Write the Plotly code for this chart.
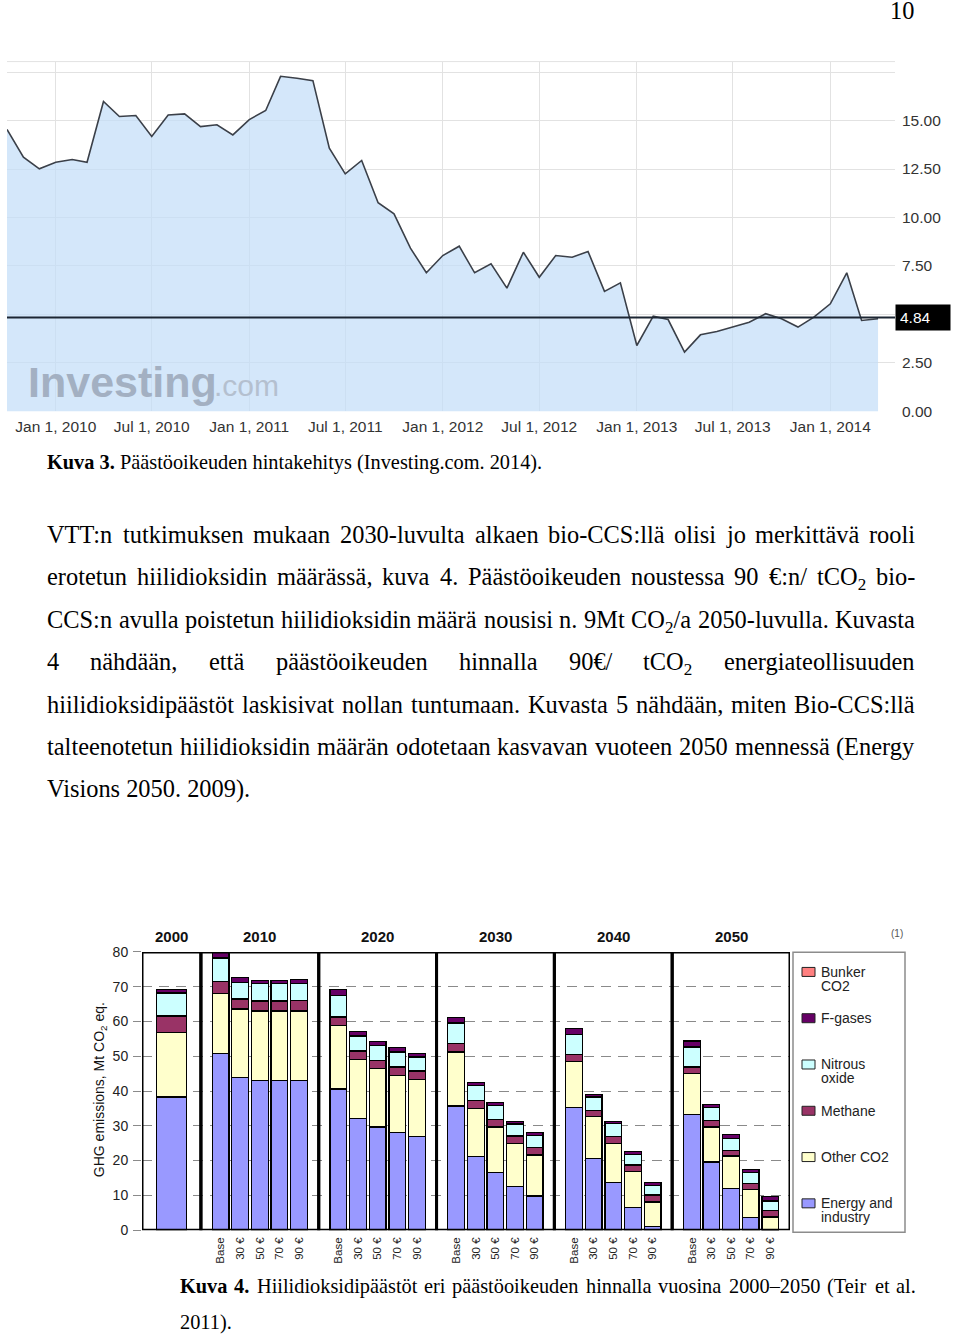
import re
import pandas as pd
import plotly.graph_objects as go

W, H = 960, 1336
SERIF = "Liberation Serif, Times New Roman, serif"
SANS = "Liberation Sans, Arial, sans-serif"

# ---------------- Kuva 3: EUA price (Investing.com), monthly ----------------
price_dates = pd.date_range("2009-10-01", "2014-04-01", freq="MS")
price_values = [14.54, 13.11, 12.51, 12.85, 12.99, 12.85, 15.98, 15.21, 15.26, 14.18,
                15.29, 15.34, 14.69, 14.78, 14.26, 15.05, 15.52, 17.28, 17.18, 17.06,
                13.57, 12.25, 12.94, 10.76, 10.19, 8.42, 7.15, 8.04, 8.52, 7.15,
                7.61, 6.36, 8.21, 6.92, 8.04, 7.95, 8.25, 6.19, 6.63, 3.40,
                4.91, 4.74, 3.06, 3.95, 4.12, 4.35, 4.60, 5.04, 4.78, 4.35,
                4.86, 5.55, 7.15, 4.69, 4.78]
last_price = 4.84
price_tick_dates = ["2010-01-01", "2010-07-01", "2011-01-01", "2011-07-01", "2012-01-01",
                    "2012-07-01", "2013-01-01", "2013-07-01", "2014-01-01"]
price_tick_labels = ["Jan 1, 2010", "Jul 1, 2010", "Jan 1, 2011", "Jul 1, 2011", "Jan 1, 2012",
                     "Jul 1, 2012", "Jan 1, 2013", "Jul 1, 2013", "Jan 1, 2014"]
price_axis_ticks = [0, 2.5, 7.5, 10, 12.5, 15]
price_axis_labels = ["0.00", "2.50", "7.50", "10.00", "12.50", "15.00"]
price_extra_grid = [5, 17.5]

# ---------------- Kuva 4: GHG emissions, Mt CO2 eq. ----------------
years = ["2000", "2010", "2020", "2030", "2040", "2050"]
scenarios = ["Base", "30 €", "50 €", "70 €", "90 €"]
# order: 2000, then 2010..2050 x (Base, 30, 50, 70, 90)
energy_industry = [38.3,
                   50.8, 43.8, 43.0, 43.0, 43.0,
                   40.6, 32.1, 29.7, 28.0, 27.0,
                   35.7, 21.1, 16.6, 12.5, 9.8,
                   35.2, 20.6, 13.6, 6.5, 1.1,
                   33.2, 19.6, 12.0, 3.6, 0.0]
other_co2 = [18.6,
             17.2, 19.8, 20.0, 20.0, 20.0,
             18.3, 17.0, 16.7, 16.5, 16.4,
             15.5, 13.8, 13.1, 12.4, 11.8,
             13.2, 12.0, 11.3, 10.3, 7.0,
             11.8, 10.1, 9.3, 8.1, 3.8]
methane = [4.7,
           3.6, 2.9, 2.9, 2.9, 3.1,
           2.4, 2.4, 2.4, 2.4, 2.4,
           2.4, 2.3, 2.2, 2.2, 2.1,
           2.2, 1.9, 2.1, 1.9, 2.0,
           1.9, 1.9, 1.7, 1.7, 1.8]
nitrous_oxide = [6.6,
                 6.7, 4.8, 5.0, 5.0, 4.8,
                 6.2, 4.3, 4.2, 4.3, 4.0,
                 6.0, 4.3, 3.9, 3.4, 3.6,
                 5.6, 3.8, 3.7, 3.0, 2.8,
                 5.8, 3.6, 3.3, 3.1, 2.8]
f_gases = [1.1,
           1.5, 1.3, 0.9, 0.9, 1.2,
           1.7, 1.3, 1.2, 1.3, 1.0,
           1.5, 1.0, 1.0, 0.8, 0.8,
           1.7, 0.7, 0.5, 1.0, 0.9,
           1.7, 0.9, 1.3, 0.9, 1.2]
bunker_co2 = [0.0,
              0.0, 0.0, 0.0, 0.0, 0.0,
              0.0, 0.0, 0.0, 0.0, 0.0,
              0.0, 0.0, 0.0, 0.0, 0.0,
              0.0, 0.0, 0.0, 0.0, 0.0,
              0.0, 0.0, 0.0, 0.0, 0.0]
layer_names = ["Energy and industry", "Other CO2", "Methane", "Nitrous oxide", "F-gases", "Bunker CO2"]
layer_values = [energy_industry, other_co2, methane, nitrous_oxide, f_gases, bunker_co2]
layer_colors = ["#9999ff", "#ffffcc", "#993366", "#ccffff", "#660066", "#ff8080"]
legend_lines = {"Bunker CO2": ["Bunker", "CO2"], "F-gases": ["F-gases"],
                "Nitrous oxide": ["Nitrous", "oxide"], "Methane": ["Methane"],
                "Other CO2": ["Other CO2"], "Energy and industry": ["Energy and", "industry"]}

# ---------------- page text ----------------
page_number = "10"
caption3 = "<b>Kuva</b> <b>3.</b> Päästöoikeuden hintakehitys (Investing.com. 2014)."
body_lines = [
    ("VTT:n tutkimuksen mukaan 2030-luvulta alkaen bio-CCS:llä olisi jo merkittävä rooli", True),
    ("erotetun hiilidioksidin määrässä, kuva 4. Päästöoikeuden noustessa 90 €:n/ tCO<sub>2</sub> bio-", True),
    ("CCS:n avulla poistetun hiilidioksidin määrä nousisi n. 9Mt CO<sub>2</sub>/a 2050-luvulla. Kuvasta", True),
    ("4 nähdään, että päästöoikeuden hinnalla 90€/ tCO<sub>2</sub> energiateollisuuden", True),
    ("hiilidioksidipäästöt laskisivat nollan tuntumaan. Kuvasta 5 nähdään, miten Bio-CCS:llä", True),
    ("talteenotetun hiilidioksidin määrän odotetaan kasvavan vuoteen 2050 mennessä (Energy", True),
    ("Visions 2050. 2009).", False),
]
caption4_lines = [
    ("<b>Kuva</b> <b>4.</b> Hiilidioksidipäästöt eri päästöoikeuden hinnalla vuosina 2000–2050 (Teir et al.", True),
    ("2011).", False),
]

# ---------------- helpers ----------------
# vertical correction for how the page is photographed (content shows up ~8px lower, ~1.2% squeezed)
Y_OFF, Y_SC = 7.4, 0.9884


def fx(p):
    return p / W


def fy(p):
    return 1 - ((p - Y_OFF) / Y_SC) / H


annotations = []
shapes = []


def ann(text, x, y, **kw):
    d = dict(text=text, x=x, y=y, xref="paper", yref="paper", showarrow=False)
    d.update(kw)
    annotations.append(d)


TIMES = {' ': 250, '!': 333, '(': 333, ')': 333, ',': 250, '-': 333, '.': 250, '/': 278, ':': 278,
         '0': 500, '1': 500, '2': 500, '3': 500, '4': 500, '5': 500, '6': 500, '7': 500, '8': 500, '9': 500,
         'A': 722, 'B': 667, 'C': 667, 'D': 722, 'E': 611, 'F': 556, 'G': 722, 'H': 722, 'I': 333, 'J': 389,
         'K': 722, 'L': 611, 'M': 889, 'N': 722, 'O': 722, 'P': 556, 'Q': 722, 'R': 667, 'S': 556, 'T': 611,
         'U': 722, 'V': 722, 'W': 944, 'X': 722, 'Y': 722, 'Z': 611,
         'a': 444, 'b': 500, 'c': 444, 'd': 500, 'e': 444, 'f': 333, 'g': 500, 'h': 500, 'i': 278, 'j': 278,
         'k': 500, 'l': 278, 'm': 778, 'n': 500, 'o': 500, 'p': 500, 'q': 500, 'r': 333, 's': 389, 't': 278,
         'u': 500, 'v': 500, 'w': 722, 'x': 500, 'y': 500, 'z': 444, 'ä': 444, 'ö': 500, '€': 500, '–': 500}
TIMES_B = {'K': 778, 'u': 556, 'v': 500, 'a': 500, ' ': 250, '3': 500, '4': 500, '.': 250}


def text_width(s, size):
    w = 0.0
    bold = sub = False
    for t in re.split(r"(<[^>]+>)", s):
        if t == "<b>":
            bold = True
        elif t == "</b>":
            bold = False
        elif t == "<sub>":
            sub = True
        elif t == "</sub>":
            sub = False
        else:
            for ch in t:
                cw = (TIMES_B.get(ch, TIMES.get(ch, 500)) if bold else TIMES.get(ch, 500))
                w += cw * (0.7 if sub else 1.0)
    return w * size / 1000.0


def add_text_line(text, x0, x1, yc, size, justify):
    top = yc - 0.62 * size
    font = dict(family=SERIF, size=size, color="#000000")
    if not justify:
        ann(text, fx(x0), fy(top), xanchor="left", yanchor="top", font=font, borderpad=0)
        return
    words = text.split(" ")
    widths = [text_width(w, size) for w in words]
    gap = (x1 - x0 - sum(widths)) / (len(words) - 1)
    x = x0
    for w, wd in zip(words, widths):
        ann(w, fx(x), fy(top), xanchor="left", yanchor="top", font=font, borderpad=0)
        x += wd + gap


fig = go.Figure()

# ---------------- Kuva 3 chart ----------------
fig.add_trace(go.Scatter(x=price_dates, y=price_values, mode="lines",
                         line=dict(color="#3b4049", width=1.6),
                         fill="tozeroy", fillcolor="rgba(196,222,248,0.72)",
                         xaxis="x", yaxis="y", showlegend=False, hoverinfo="skip"))
shapes.append(dict(type="line", xref="x domain", yref="y", x0=0, x1=1, y0=last_price, y1=last_price,
                   line=dict(color="#1c2633", width=2), layer="above"))
shapes.append(dict(type="line", xref="x domain", yref="y domain", x0=0, x1=1, y0=1, y1=1,
                   line=dict(color="#e2e2e2", width=1)))
ann(f"{last_price:.2f}", fx(895), last_price, yref="y", xanchor="left", yanchor="middle",
    font=dict(family=SANS, size=15.5, color="#ffffff"), bgcolor="#000000", borderpad=4,
    width=46, align="left")
ann("<b>Investing</b>", fx(27), fy(395 - 0.905 * 43), xanchor="left", yanchor="top",
    font=dict(family=SANS, size=43, color="#a3b0c2"), borderpad=0)
ann(".com", fx(213), fy(395 - 0.905 * 30), xanchor="left", yanchor="top",
    font=dict(family=SANS, size=30, color="#b4c0cf"), borderpad=0)

# ---------------- Kuva 4 chart ----------------
group_sizes = [1] + [len(scenarios)] * (len(years) - 1)
panel_edges = [0]
for g, n in enumerate(group_sizes):
    panel_edges.append(panel_edges[-1] + (3 if n == 1 else n + 1))
bar_x, bar_w, tick_x, tick_t = [], [], [], []
for g, n in enumerate(group_sizes):
    if n == 1:
        bar_x.append((panel_edges[g] + panel_edges[g + 1]) / 2)
        bar_w.append(1.53)
    else:
        for s in range(n):
            bar_x.append(panel_edges[g] + 1 + s)
            bar_w.append(0.85)
            tick_x.append(panel_edges[g] + 1 + s)
            tick_t.append(scenarios[s])

for name, vals, col in zip(layer_names, layer_values, layer_colors):
    fig.add_trace(go.Bar(x=bar_x, y=vals, width=bar_w, name=name, marker=dict(
        color=col, line=dict(color="#000000", width=0 if name == "Bunker CO2" else 1.3)),
        xaxis="x2", yaxis="y2", showlegend=False, hoverinfo="skip"))

for g in range(len(years)):
    shapes.append(dict(type="rect", xref="x2", yref="y2", x0=panel_edges[g], x1=panel_edges[g + 1],
                       y0=0, y1=80, line=dict(color="#000000", width=3), layer="above"))
    ann(f"<b>{years[g]}</b>", (panel_edges[g] + panel_edges[g + 1]) / 2, fy(936), xref="x2",
        xanchor="center", yanchor="middle", font=dict(family=SANS, size=15, color="#111111"))
ann("(1)", fx(897), fy(933), xanchor="center", yanchor="middle",
    font=dict(family=SANS, size=10, color="#555555"))
ann("GHG emissions, Mt CO<sub>2</sub> eq.", fx(100), fy(1090), xanchor="center", yanchor="middle",
    textangle=-90, font=dict(family=SANS, size=14, color="#111111"))

# legend (manual)
shapes.append(dict(type="rect", xref="paper", yref="paper", x0=fx(793), x1=fx(905), y0=fy(952), y1=fy(1232),
                   line=dict(color="#8c8c8c", width=1.5), fillcolor="#ffffff", layer="below"))
for i, name in enumerate(reversed(layer_names)):
    col = layer_colors[layer_names.index(name)]
    yc = 971.7 + i * 46.3
    shapes.append(dict(type="rect", xref="paper", yref="paper", x0=fx(802), x1=fx(815),
                       y0=fy(yc + 4.5), y1=fy(yc - 4.5), fillcolor=col,
                       line=dict(color="#222222", width=1)))
    for j, line in enumerate(legend_lines[name]):
        ann(line, fx(820), fy(yc + 14 * j), xanchor="left", yanchor="middle",
            font=dict(family=SANS, size=14, color="#222222"), borderpad=0)

# ---------------- page text ----------------
ann(page_number, fx(915), fy(11 - 0.62 * 24.4), xanchor="right", yanchor="top",
    font=dict(family=SERIF, size=24.4, color="#000000"), borderpad=0)
add_text_line(caption3, 46, 914, 462, 20.33, False)
body_y = [535, 577, 620, 662, 705, 747, 789]
for (txt, just), yc in zip(body_lines, body_y):
    add_text_line(txt, 46, 914, yc, 24.4, just)
for (txt, just), yc in zip(caption4_lines, [1286, 1322]):
    add_text_line(txt, 179, 915, yc, 20.33, just)

fig.update_layout(
    width=W, height=H, margin=dict(l=0, r=0, t=0, b=0),
    paper_bgcolor="#ffffff", plot_bgcolor="#ffffff",
    barmode="stack", showlegend=False,
    xaxis=dict(domain=[fx(7), fx(895)], anchor="y", type="date",
               range=["2009-10-01", "2014-05-03"], tickmode="array",
               tickvals=price_tick_dates, ticktext=price_tick_labels,
               showgrid=True, gridcolor="#e2e2e2", gridwidth=1, zeroline=False, showline=False,
               ticks="", tickfont=dict(family=SANS, size=15.5, color="#333333"),
               ticklabelstandoff=4, fixedrange=True),
    yaxis=dict(domain=[fy(411), fy(61)], anchor="x", range=[0, 18.04], side="right",
               tickmode="array", tickvals=price_axis_ticks, ticktext=price_axis_labels,
               showgrid=True, gridcolor="#e2e2e2", gridwidth=1, zeroline=False, showline=False,
               minor=dict(tickmode="array", tickvals=price_extra_grid, showgrid=True,
                          gridcolor="#e2e2e2", gridwidth=1, ticks=""),
               ticks="", tickfont=dict(family=SANS, size=15.5, color="#333333"),
               ticklabelstandoff=6, fixedrange=True),
    xaxis2=dict(domain=[fx(142), fx(790)], anchor="y2", range=[0, panel_edges[-1]],
                tickmode="array", tickvals=tick_x, ticktext=tick_t, tickangle=-90,
                showgrid=False, zeroline=False, showline=False, ticks="",
                tickfont=dict(family=SANS, size=11.5, color="#222222"), ticklabelstandoff=4,
                fixedrange=True),
    yaxis2=dict(domain=[fy(1230), fy(951.7)], anchor="x2", range=[0, 80],
                tickmode="array", tickvals=list(range(0, 81, 10)),
                showgrid=True, gridcolor="#8a8a8a", griddash="10px,7px", gridwidth=1,
                zeroline=False, showline=False, ticks="outside", ticklen=8, tickcolor="#8a8a8a",
                tickfont=dict(family=SANS, size=14, color="#222222"), ticklabelstandoff=2,
                fixedrange=True),
    shapes=shapes, annotations=annotations,
)

post_js = (
    "var s=[document.documentElement.style, document.body.style];"
    "for (var i=0;i<s.length;i++){s[i].margin='0px';s[i].padding='0px';s[i].overflow='hidden';}"
    "var d=document.getElementById('{plot_id}');"
    "d.style.position='absolute';d.style.left='0px';d.style.top='0px';"
)
fig.write_html("out.html", config={"displayModeBar": False}, post_script=post_js)
